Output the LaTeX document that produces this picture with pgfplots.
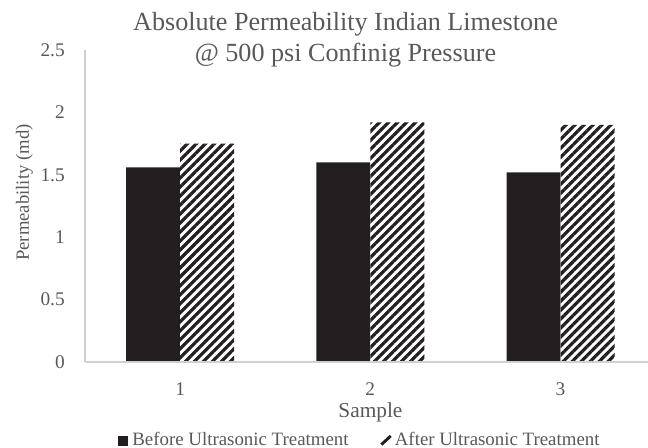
\documentclass[border=0pt]{standalone}
\usepackage{pgfplots}
\pgfplotsset{compat=1.18}
\usetikzlibrary{patterns.meta}
\usepackage{fontspec}
\setmainfont{Liberation Serif}
\definecolor{txt}{HTML}{595959}
\definecolor{axl}{HTML}{D0D0D0}
\definecolor{barblk}{HTML}{231F20}
\begin{document}
\begin{tikzpicture}
\begin{axis}[
  at={(63.75pt,64.5pt)}, anchor=south west,
  scale only axis, width=422.25pt, height=234pt,
  xmin=0.5, xmax=3.46, ymin=0, ymax=2.5,
  ybar, bar width=40.5pt,
  axis x line*=bottom, axis y line*=left,
  axis line style={axl, line width=0.9pt},
  axis on top,
  xtick={1,2,3}, ytick={0,0.5,1,1.5,2,2.5},
  major tick length=0pt,
  yticklabel style={font=\fontsize{14.5}{17}\selectfont, text=txt, inner sep=0pt, xshift=-15pt},
  xticklabel style={font=\fontsize{14.5}{17}\selectfont, text=txt, inner sep=0pt, yshift=-15pt},
  /pgf/number format/assume math mode=true,
  yticklabel={\pgfmathprintnumber[fixed,precision=1]{\tick}},
  title={Absolute Permeability Indian Limestone\\@ 500 psi Confinig Pressure},
  title style={at={(axis description cs:0.4627,1.008)}, anchor=center, yshift=0pt, align=center,
    font=\fontsize{19.6}{23.6}\selectfont, text=txt},
  xlabel={Sample},
  xlabel style={at={(axis description cs:0.507,-0.1763)}, anchor=base,
    font=\fontsize{16}{19}\selectfont, text=txt},
  ylabel={Permeability (md)},
  ylabel style={at={(axis description cs:-0.1075,0.543)}, anchor=center,
    font=\fontsize{14}{17}\selectfont, text=txt},
  legend columns=2,
  legend style={at={(axis description cs:0.4884,-0.2485)}, anchor=center, draw=none,
    font=\fontsize{14.15}{17}\selectfont, text=txt,
    /tikz/every even column/.append style={column sep=21.5pt}},
  legend cell align=left,
]
\addplot[barblk, fill=barblk, draw=none, bar shift=-20.25pt,
  legend image code/.code={\fill[barblk] (0pt,-4.5pt) rectangle (7.5pt,3pt); \path (9pt,0pt);}]
  coordinates {(1,1.56) (2,1.60) (3,1.52)};
\addlegendentry{Before Ultrasonic Treatment}
\addplot[draw=none, fill=white, bar shift=20.25pt,
  postaction={pattern={Lines[angle=45, distance=4.77pt, line width=2.4pt]}, pattern color=barblk},
  legend image code/.code={\draw[barblk, line width=2.2pt] (1pt,-3.8pt) -- (8pt,2.7pt);}]
  coordinates {(1,1.75) (2,1.92) (3,1.90)};
\addlegendentry{After Ultrasonic Treatment}
\end{axis}
\pgfresetboundingbox
\path[use as bounding box] (0,0) rectangle (486pt,336pt);
\end{tikzpicture}
\end{document}
